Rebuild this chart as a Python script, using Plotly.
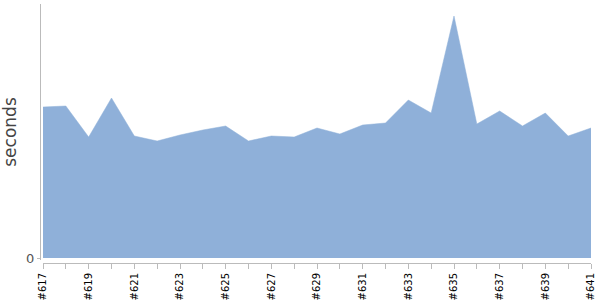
import plotly.graph_objects as go

builds = ["#%d" % n for n in range(617, 642)]
seconds = [151, 152, 121, 160, 122, 117, 123, 128, 132, 117, 122, 121, 130,
           124, 133, 135, 158, 145, 242, 134, 147, 132, 145, 122, 130]
tick_labels = [b if i % 2 == 0 else "" for i, b in enumerate(builds)]

fig = go.Figure()
fig.add_trace(go.Scatter(
    x=builds, y=seconds, mode="lines", fill="tozeroy",
    fillcolor="rgb(143,176,217)", line=dict(color="rgb(143,176,217)", width=0.5),
    hoverinfo="x+y", showlegend=False,
))

W, H = 600, 300
ml, mr, mt, mb = 40, 9, 4, 37
pw = W - ml - mr
ph = H - mt - mb

fig.update_layout(
    width=W, height=H,
    margin=dict(l=ml, r=mr, t=mt, b=mb, pad=0),
    plot_bgcolor="white", paper_bgcolor="white",
    font=dict(family="DejaVu Sans", color="#000"),
    xaxis=dict(
        type="category", range=[0, len(builds) - 1], automargin=False,
        domain=[3 / pw, 1], anchor="free", position=0,
        tickmode="array", tickvals=builds, ticktext=tick_labels,
        tickangle=-90, ticks="outside", ticklen=5, tickcolor="#bbb",
        tickfont=dict(size=10, color="#000", family="DejaVu Sans"),
        showline=True, linecolor="#bbb", linewidth=1,
        showgrid=False, zeroline=False,
    ),
    yaxis=dict(
        range=[-2, 254], domain=[3 / ph, 1], anchor="free", position=0,
        automargin=False,
        tickmode="array", tickvals=[0], ticktext=["0"],
        ticks="outside", ticklen=3, tickcolor="#bbb",
        tickfont=dict(size=13, color="#555", family="DejaVu Sans"),
        showline=True, linecolor="#bbb", linewidth=1,
        showgrid=False, zeroline=False,
        title=dict(text="seconds", font=dict(size=17, color="#444", family="DejaVu Sans"), standoff=8),
    ),
)

fig.write_html("out.html")
